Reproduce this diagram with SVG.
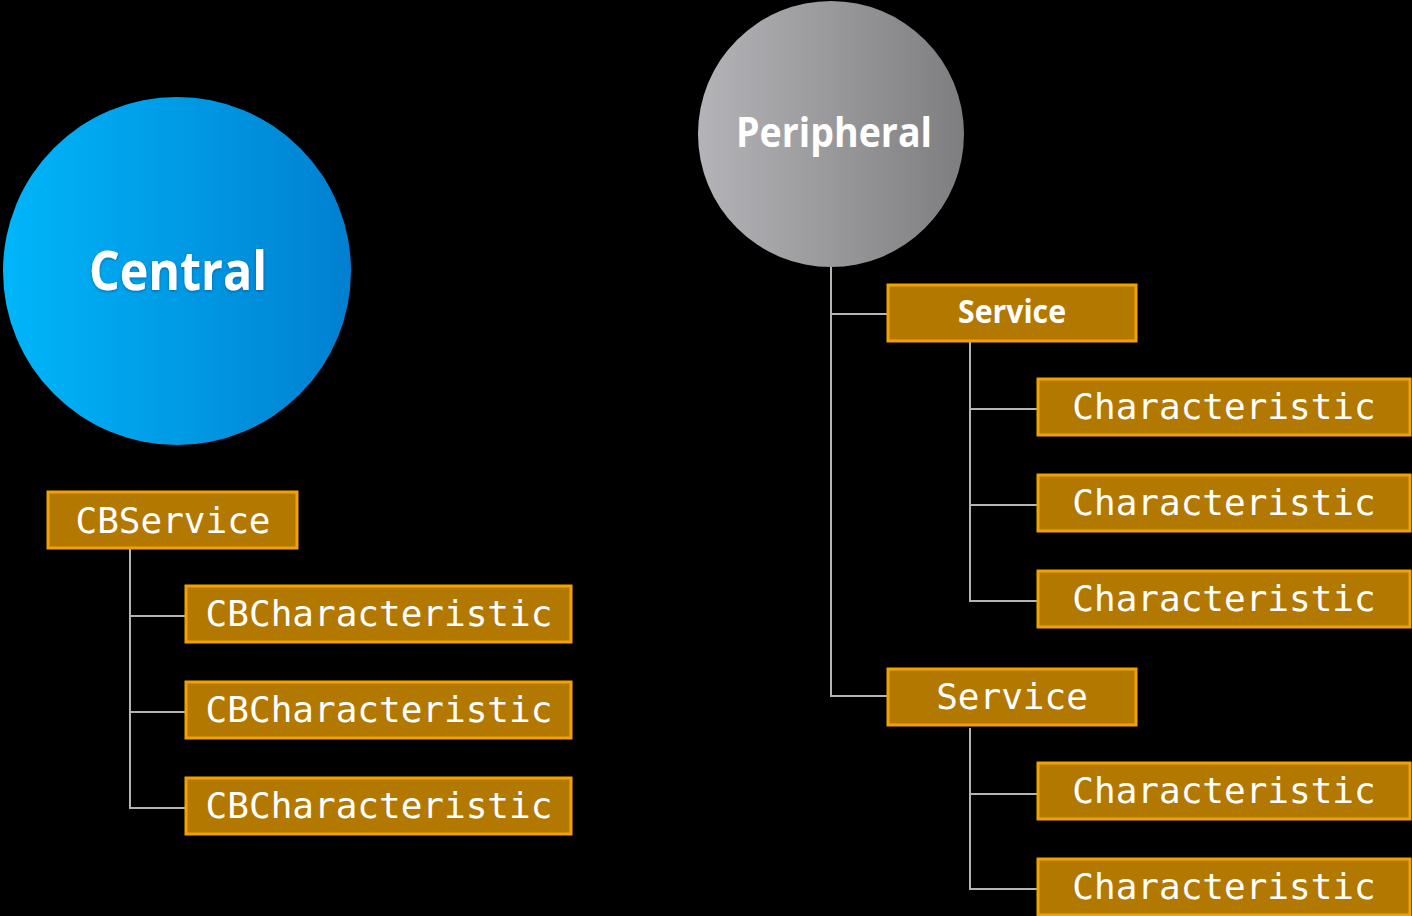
<svg xmlns="http://www.w3.org/2000/svg" width="1412" height="916" viewBox="0 0 1412 916">
<defs>
<linearGradient id="gBlue" x1="0" y1="0" x2="1" y2="0">
<stop offset="0" stop-color="#00b6fa"/>
<stop offset="1" stop-color="#0080d0"/>
</linearGradient>
<linearGradient id="gGray" x1="0" y1="0" x2="1" y2="0">
<stop offset="0" stop-color="#b4b4b8"/>
<stop offset="1" stop-color="#7e7e80"/>
</linearGradient>
<filter id="sh" x="-10%" y="-20%" width="120%" height="140%">
<feDropShadow dx="0" dy="1" stdDeviation="1.5" flood-color="#003a80" flood-opacity="0.6"/>
</filter>
</defs>
<style>
.box{fill:#b37800;stroke:#f2a200;stroke-width:3}
.mono{font-family:"DejaVu Sans Mono","Liberation Mono",monospace;font-size:36px;fill:#ffffff;text-anchor:middle}
.title{font-family:"Open Sans","Noto Sans","Liberation Sans",sans-serif;font-weight:700;fill:#ffffff;text-anchor:middle}
.conn{fill:none;stroke:#b4b4b4;stroke-width:2}
</style>
<rect x="0" y="0" width="1412" height="916" fill="#000000"/>
<g id="connectors">
<path class="conn" d="M130 549 V808 H185 M130 616 H185 M130 712 H185"/>
<path class="conn" d="M831 267 V696 H887 M831 314 H887"/>
<path class="conn" d="M970 341 V601 H1037 M970 409 H1037 M970 505 H1037"/>
<path class="conn" d="M970 728 V889 H1037 M970 794 H1037"/>
</g>
<g id="central">
<circle cx="177" cy="271" r="174" fill="url(#gBlue)"/>
<text class="title" x="178" y="290" font-size="53" textLength="178" lengthAdjust="spacingAndGlyphs" filter="url(#sh)">Central</text>
</g>
<g id="peripheral">
<circle cx="831" cy="134" r="133" fill="url(#gGray)"/>
<text class="title" x="834" y="147" font-size="41" textLength="196" lengthAdjust="spacingAndGlyphs">Peripheral</text>
</g>
<g id="cbservice">
<rect class="box" x="48" y="492" width="249" height="56"/>
<text class="mono" x="173" y="533">CBService</text>
</g>
<g id="cbchar1">
<rect class="box" x="186" y="586" width="385" height="56"/>
<text class="mono" x="379" y="626">CBCharacteristic</text>
</g>
<g id="cbchar2">
<rect class="box" x="186" y="682" width="385" height="56"/>
<text class="mono" x="379" y="722">CBCharacteristic</text>
</g>
<g id="cbchar3">
<rect class="box" x="186" y="778" width="385" height="56"/>
<text class="mono" x="379" y="818">CBCharacteristic</text>
</g>
<g id="service1">
<rect class="box" x="888" y="285" width="248" height="56"/>
<text class="title" x="1012" y="323" font-size="32" font-weight="600" textLength="108" lengthAdjust="spacingAndGlyphs">Service</text>
</g>
<g id="char1">
<rect class="box" x="1038" y="379" width="372" height="56"/>
<text class="mono" x="1224" y="419">Characteristic</text>
</g>
<g id="char2">
<rect class="box" x="1038" y="475" width="372" height="56"/>
<text class="mono" x="1224" y="515">Characteristic</text>
</g>
<g id="char3">
<rect class="box" x="1038" y="571" width="372" height="56"/>
<text class="mono" x="1224" y="611">Characteristic</text>
</g>
<g id="service2">
<rect class="box" x="888" y="669" width="248" height="56"/>
<text class="mono" x="1012" y="709">Service</text>
</g>
<g id="char4">
<rect class="box" x="1038" y="763" width="372" height="56"/>
<text class="mono" x="1224" y="803">Characteristic</text>
</g>
<g id="char5">
<rect class="box" x="1038" y="859" width="372" height="56"/>
<text class="mono" x="1224" y="899">Characteristic</text>
</g>
</svg>
